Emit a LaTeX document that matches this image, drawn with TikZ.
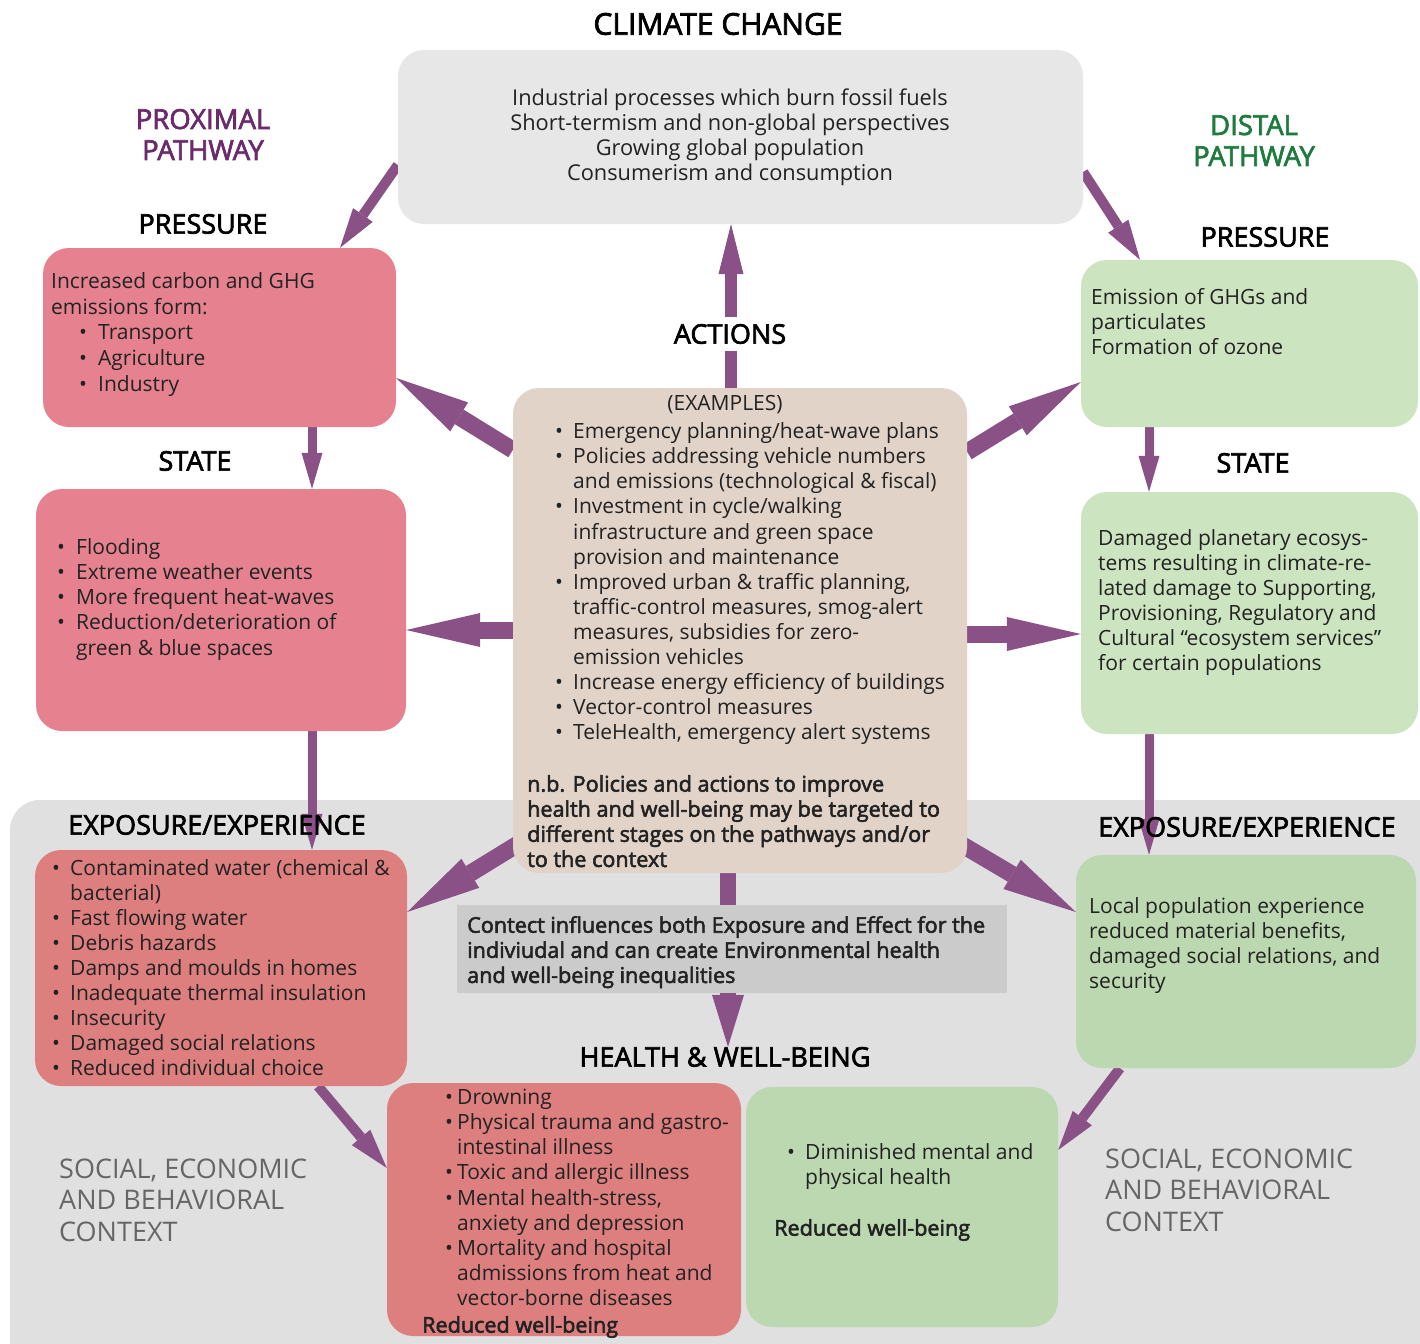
\documentclass[tikz,border=0pt]{standalone}
\usepackage{fontspec}
\setmainfont{Open Sans}
\newfontfamily\sbf[FakeBold=2.5]{Open Sans}
\usetikzlibrary{arrows.meta,calc}
\definecolor{arrowc}{HTML}{8A5186}
\definecolor{pinkA}{HTML}{E6828F}
\definecolor{salmon}{HTML}{DD7F7E}
\definecolor{greenA}{HTML}{CDE4C1}
\definecolor{greenB}{HTML}{BCD8B0}
\definecolor{tanc}{HTML}{E1D3C7}
\definecolor{climg}{HTML}{E7E7E7}
\definecolor{ctxg}{HTML}{E0E0E0}
\definecolor{ctxbox}{HTML}{CBCBCB}
\definecolor{txtc}{HTML}{222222}
\definecolor{purp}{HTML}{6B2A6B}
\definecolor{dgreen}{HTML}{1F7A3E}
\definecolor{ctxtxt}{HTML}{666666}
\pgfdeclarelayer{back}
\pgfdeclarelayer{arr}
\pgfsetlayers{back,arr,main}
\newcommand\bul[1][18pt]{\makebox[#1][l]{•}}
\begin{document}
\begin{tikzpicture}[x=1pt,y=-1pt,
  box/.style={rounded corners=26pt, inner sep=0pt, draw=none},
  body/.style={anchor=north west, inner sep=0pt, align=left, text=txtc, font=\fontsize{21}{25.1}\selectfont},
  semi/.style={anchor=north west, inner sep=0pt, align=left, text=txtc, font=\sbf\fontsize{21.6}{25.1}\selectfont},
  head/.style={anchor=base, inner sep=0pt, text=black, font=\sbf\fontsize{27}{31}\selectfont},
  ctxlabel/.style={anchor=north west, inner sep=0pt, align=left, text=ctxtxt, font=\fontsize{27}{31.5}\selectfont},
  thinarr/.style={draw=arrowc, line width=9pt, -{Triangle[length=36pt,width=21pt,line width=0pt]}},
  diagarr/.style={draw=arrowc, line width=10pt, -{Triangle[length=40pt,width=24pt,line width=0pt]}},
  thickarr/.style={draw=arrowc, line width=17pt, -{Triangle[length=74pt,width=34pt,line width=0pt]}},
  uparr/.style={draw=arrowc, line width=12pt, -{Triangle[length=50pt,width=25pt,line width=0pt]}},
  downarr/.style={draw=arrowc, line width=16pt, -{Triangle[length=52pt,width=32pt,line width=0pt]}}]
\useasboundingbox (0,0) rectangle (1420,1343);

\begin{pgfonlayer}{back}
\fill[white] (0,0) rectangle (1420,1343);
\fill[ctxg, rounded corners=30pt] (10,800) rectangle (1460,1380);
\end{pgfonlayer}

% boxes
\node[box, fill=climg, minimum width=685pt, minimum height=174pt] (clim) at (740.5,137) {};
\node[box, fill=pinkA, minimum width=353pt, minimum height=179pt] (lpress) at (219.5,337.5) {};
\node[box, fill=greenA, minimum width=337pt, minimum height=167pt] (rpress) at (1249.5,343.5) {};
\node[box, fill=pinkA, minimum width=370pt, minimum height=242pt] (lstate) at (221,610) {};
\node[box, fill=greenA, minimum width=337pt, minimum height=242pt] (rstate) at (1249.5,613) {};
\node[box, fill=tanc, minimum width=454pt, minimum height=485pt] (actions) at (740,630.5) {};
\node[box, fill=salmon, minimum width=372pt, minimum height=236pt] (lexp) at (221,968) {};
\node[box, fill=greenB, minimum width=340pt, minimum height=213pt] (rexp) at (1246,961.5) {};
\node[fill=ctxbox, inner sep=0pt, minimum width=550pt, minimum height=88pt] (ctxb) at (732,949) {};
\node[box, fill=salmon, minimum width=354pt, minimum height=253pt] (hleft) at (564,1209.5) {};
\node[box, fill=greenB, minimum width=312pt, minimum height=240pt] (hright) at (902,1207) {};

% headings
\node[head, font=\sbf\fontsize{30}{31}\selectfont] (tclim) at (718,34.7) {CLIMATE CHANGE};
\node[head, text=purp, anchor=center, align=center, font=\sbf\fontsize{27.5}{31}\selectfont] (tprox) at (203,134.5) {PROXIMAL\\PATHWAY};
\node[head, text=dgreen, anchor=center, align=center, font=\sbf\fontsize{27.5}{31}\selectfont] (tdist) at (1254,140.5) {DISTAL\\PATHWAY};
\node[head] (tlpress) at (203,233.6) {PRESSURE};
\node[head] (trpress) at (1265,246.6) {PRESSURE};
\node[head] (tlstate) at (195,470.6) {STATE};
\node[head] (trstate) at (1253,472.6) {STATE};
\node[head, anchor=center, fill=white, inner xsep=4pt, inner ysep=7pt] (tact) at (730,334) {ACTIONS};
\node[head] (tlexp) at (217,834.6) {EXPOSURE/EXPERIENCE};
\node[head] (trexp) at (1247,836.6) {EXPOSURE/EXPERIENCE};
\node[head] (thw) at (725,1066.6) {HEALTH \& WELL-BEING};
\node[ctxlabel] (tctxl) at (59,1158.4) {SOCIAL, ECONOMIC\\AND BEHAVIORAL\\CONTEXT};
\node[ctxlabel] (tctxr) at (1105,1148.4) {SOCIAL, ECONOMIC\\AND BEHAVIORAL\\CONTEXT};

% body texts
\node[body, anchor=north, align=center, font=\fontsize{21.8}{25}\selectfont] (xclim) at (730,89) {Industrial processes which burn fossil fuels\\Short-termism and non-global perspectives\\Growing global population\\Consumerism and consumption};
\node[body, font=\fontsize{21}{25.9}\selectfont] (xlpress) at (51,272) {Increased carbon and GHG\\emissions form:\\\hspace*{28pt}\bul[19pt]Transport\\\hspace*{28pt}\bul[19pt]Agriculture\\\hspace*{28pt}\bul[19pt]Industry};
\node[body] (xlstate) at (57,538.5) {\bul[19pt]Flooding\\\bul[19pt]Extreme weather events\\\bul[19pt]More frequent heat-waves\\\bul[19pt]Reduction/deterioration of\\\hspace*{19pt}green \& blue spaces};
\node[body, anchor=center] (xex) at (725,405) {(EXAMPLES)};
\node[body] (xact) at (555,422.5) {\bul Emergency planning/heat-wave plans\\\bul Policies addressing vehicle numbers\\\hspace*{18pt}and emissions (technological \& fiscal)\\\bul Investment in cycle/walking\\\hspace*{18pt}infrastructure and green space\\\hspace*{18pt}provision and maintenance\\\bul Improved urban \& traffic planning,\\\hspace*{18pt}traffic-control measures, smog-alert\\\hspace*{18pt}measures, subsidies for zero-\\\hspace*{18pt}emission vehicles\\\bul Increase energy efficiency of buildings\\\bul Vector-control measures\\\bul TeleHealth, emergency alert systems};
\node[semi] (xnb) at (527,775) {n.b. Policies and actions to improve\\health and well-being may be targeted to\\different stages on the pathways and/or\\to the context};
\node[body] (xrpress) at (1091,288) {Emission of GHGs and\\particulates\\Formation of ozone};
\node[body] (xrstate) at (1098,529) {Damaged planetary ecosys-\\tems resulting in climate-re-\\lated damage to Supporting,\\Provisioning, Regulatory and\\Cultural “ecosystem services”\\for certain populations};
\node[body] (xlexp) at (52,859) {\bul Contaminated water (chemical \&\\\hspace*{18pt}bacterial)\\\bul Fast flowing water\\\bul Debris hazards\\\bul Damps and moulds in homes\\\bul Inadequate thermal insulation\\\bul Insecurity\\\bul Damaged social relations\\\bul Reduced individual choice};
\node[body] (xrexp) at (1089,897.5) {Local population experience\\reduced material benefits,\\damaged social relations, and\\security};
\node[semi] (xctx) at (467,916) {Contect influences both Exposure and Effect for the\\indiviudal and can create Environmental health\\and well-being inequalities};
\node[body] (xhl) at (445,1089) {\bul[12pt]Drowning\\\bul[12pt]Physical trauma and gastro-\\\hspace*{12pt}intestinal illness\\\bul[12pt]Toxic and allergic illness\\\bul[12pt]Mental health-stress,\\\hspace*{12pt}anxiety and depression\\\bul[12pt]Mortality and hospital\\\hspace*{12pt}admissions from heat and\\\hspace*{12pt}vector-borne diseases};
\node[semi] (xhlr) at (422,1316) {Reduced well-being};
\node[body] (xhr) at (787,1143) {\bul Diminished mental and\\\hspace*{18pt}physical health};
\node[semi] (xhrr) at (774,1219) {Reduced well-being};

% arrows
\begin{pgfonlayer}{arr}
\draw[diagarr] (clim.west |- 0,165) -- (340,0 |- lpress.north);
\draw[diagarr] (clim.east |- 0,172) -- (1140,0 |- rpress.north);
\draw[uparr] (731,0 |- actions.north) -- (731,0 |- clim.south);
\draw[thickarr] (actions.west |- 0,450) -- (lpress.east |- 0,378);
\draw[thickarr] (actions.west |- 0,630) -- (lstate.east |- 0,630);
\draw[thickarr] (actions.east |- 0,452) -- (rpress.west |- 0,382);
\draw[thickarr] (actions.east |- 0,634) -- (rstate.west |- 0,634);
\draw[thickarr] ($(actions.west |- 0,835)+(20,0)$) -- (lexp.east |- 0,912);
\draw[thickarr] ($(actions.east |- 0,836)+(-20,0)$) -- (rexp.west |- 0,912);
\draw[downarr] (728,0 |- actions.south) -- (728,0 |- thw.north);
\draw[thinarr] (312,0 |- lpress.south) -- (312,0 |- lstate.north);
\draw[thinarr] (312,0 |- lstate.south) -- (312,0 |- lexp.north);
\draw[diagarr] (318,0 |- lexp.south) -- (hleft.west |- 0,1168);
\draw[thinarr] (1149,0 |- rpress.south) -- (1149,0 |- rstate.north);
\draw[thinarr] (1149,0 |- rstate.south) -- (1149,0 |- rexp.north);
\draw[diagarr] (1120,0 |- rexp.south) -- (hright.east |- 0,1150);
\end{pgfonlayer}
\end{tikzpicture}
\end{document}
